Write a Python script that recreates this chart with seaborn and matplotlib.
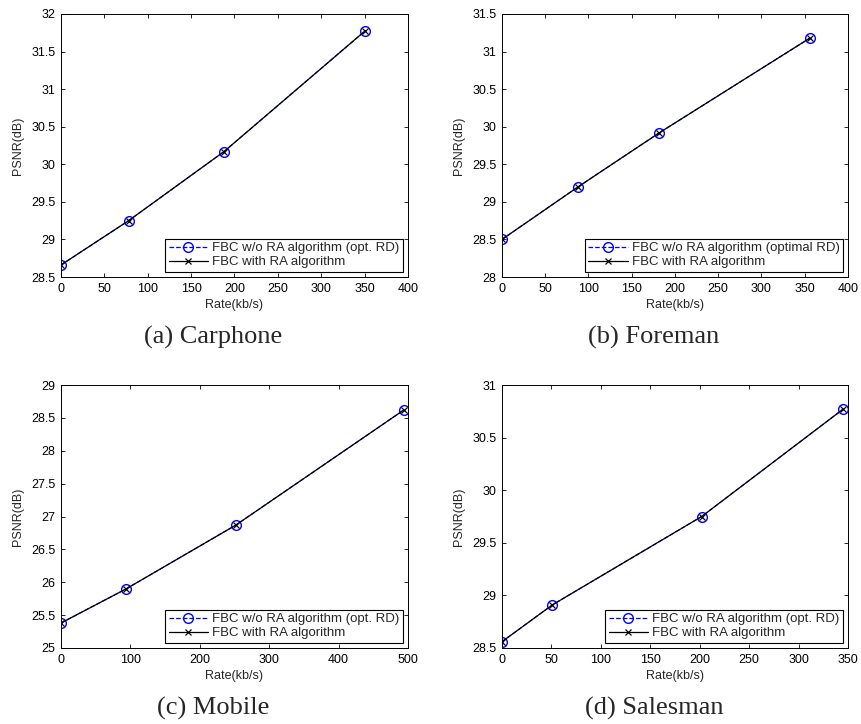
import pandas as pd
import seaborn as sns
import matplotlib.pyplot as plt

# data
rate_a = [0, 78, 188, 351]
psnr_a = [28.66, 29.25, 30.17, 31.78]
rate_b = [0, 88, 182, 356]
psnr_b = [28.50, 29.20, 29.92, 31.18]
rate_c = [0, 94, 252, 494]
psnr_c = [25.38, 25.90, 26.87, 28.62]
rate_d = [0, 51, 202, 345]
psnr_d = [28.56, 28.91, 29.75, 30.77]

captions = ['(a) Carphone', '(b) Foreman', '(c) Mobile', '(d) Salesman']
opt_labels = ['FBC w/o RA algorithm (opt. RD)', 'FBC w/o RA algorithm (optimal RD)',
              'FBC w/o RA algorithm (opt. RD)', 'FBC w/o RA algorithm (opt. RD)']
ra_label = 'FBC with RA algorithm'

xlims = [(0, 400), (0, 400), (0, 500), (0, 350)]
ylims = [(28.5, 32), (28, 31.5), (25, 29), (28.5, 31)]
xticks = [range(0, 401, 50), range(0, 401, 50), range(0, 501, 100), range(0, 351, 50)]
yticks = [[28.5, 29, 29.5, 30, 30.5, 31, 31.5, 32],
          [28, 28.5, 29, 29.5, 30, 30.5, 31, 31.5],
          [25, 25.5, 26, 26.5, 27, 27.5, 28, 28.5, 29],
          [28.5, 29, 29.5, 30, 30.5, 31]]

sns.set_style("ticks")
plt.rcParams['font.family'] = ['Liberation Sans', 'DejaVu Sans']
plt.rcParams['xtick.direction'] = 'in'
plt.rcParams['ytick.direction'] = 'in'

W, H = 862, 724
fig = plt.figure(figsize=(W / 100, H / 100), dpi=100)

# axes boxes in pixels: left, top, right, bottom
boxes = [(61, 14, 408, 277), (502, 14, 848, 277),
         (61, 385, 408, 648), (502, 385, 848, 648)]
rates = [rate_a, rate_b, rate_c, rate_d]
psnrs = [psnr_a, psnr_b, psnr_c, psnr_d]

for i in range(4):
    l, t, r, b = boxes[i]
    ax = fig.add_axes([l / W, 1 - b / H, (r - l) / W, (b - t) / H])
    df = pd.DataFrame({'rate': rates[i], 'psnr': psnrs[i]})

    sns.lineplot(data=df, x='rate', y='psnr', ax=ax, color='blue', linestyle='--',
                 linewidth=0.9, marker='o', markersize=7, markerfacecolor='none',
                 markeredgecolor='blue', markeredgewidth=1.0, label=opt_labels[i])
    sns.lineplot(data=df, x='rate', y='psnr', ax=ax, color='black', linestyle='-',
                 linewidth=0.9, marker='x', markersize=5, markeredgecolor='black',
                 markeredgewidth=0.9, label=ra_label)

    ax.set_xlim(*xlims[i])
    ax.set_ylim(*ylims[i])
    ax.set_xticks(list(xticks[i]))
    ax.set_yticks(yticks[i])
    ax.set_yticklabels([('%g' % v) for v in yticks[i]])
    ax.tick_params(axis='both', labelsize=9, colors='black', length=3, width=0.6,
                   top=True, right=True, pad=4)
    for s in ax.spines.values():
        s.set_visible(True)
        s.set_color('black')
        s.set_linewidth(0.7)
    ax.set_xlabel('Rate(kb/s)', fontsize=9, labelpad=3)
    ax.set_ylabel('PSNR(dB)', fontsize=9, labelpad=5)

    leg = ax.legend(loc='lower right', fontsize=9.5, frameon=True, fancybox=False,
                    edgecolor='black', framealpha=1, borderaxespad=0.4,
                    handlelength=3.0, handletextpad=0.3, borderpad=0.25,
                    labelspacing=0.15)
    leg.get_frame().set_linewidth(0.8)

    fig.text(((l + r) / 2 - 21) / W, 1 - (b + 60) / H, captions[i],
             ha='center', va='center', fontsize=19,
             family=['Liberation Serif', 'DejaVu Serif'])

fig.savefig('out.png', dpi=100)
